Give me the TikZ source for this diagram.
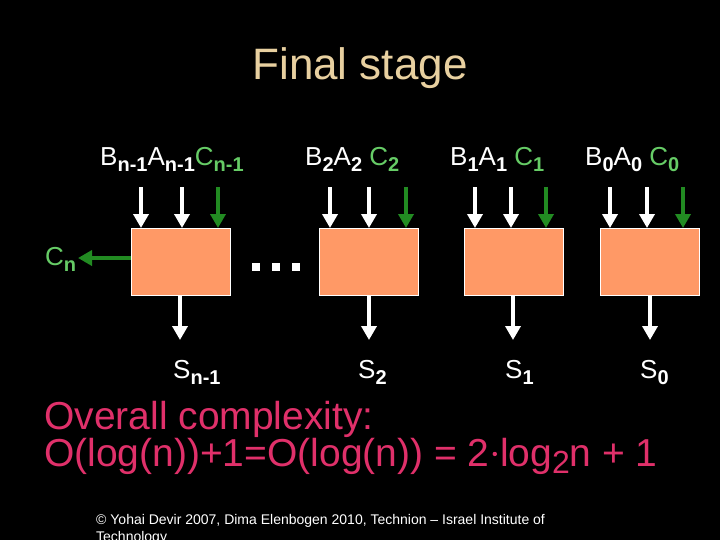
\documentclass[tikz,border=0pt]{standalone}
\usepackage{fontspec}
\setmainfont{Liberation Sans}
\usetikzlibrary{arrows.meta}
\definecolor{boxc}{HTML}{FF9966}
\definecolor{gr}{HTML}{228B22}
\definecolor{lgr}{HTML}{66CC66}
\definecolor{tan}{HTML}{E8D0A0}
\definecolor{pk}{HTML}{E0306A}
\newcommand{\sbs}[1]{\raisebox{-0.5ex}{\fontsize{20}{20}\selectfont\bfseries #1}}
\begin{document}
\begin{tikzpicture}[x=1pt,y=-1pt,
  blk/.style={draw=white,fill=boxc,minimum width=99pt,minimum height=67pt,inner sep=0pt,anchor=north west},
  warr/.style={white,line width=3.5pt,-{Triangle[width=15pt,length=14pt]}},
  garr/.style={gr,line width=3.5pt,-{Triangle[width=15pt,length=14pt]}},
  lab/.style={white,font=\fontsize{26}{28}\selectfont,inner sep=0pt},
  glab/.style={lgr,font=\fontsize{26}{28}\selectfont,inner sep=0pt}]
\fill[black] (0,0) rectangle (720,540);
\node[tan,font=\fontsize{44}{48}\selectfont] (title) at (360,68) {Final stage};
\foreach \i/\x in {1/131,2/319,3/464,4/600}{\node[blk] (b\i) at (\x,228) {};}
\node[lab,anchor=base west] (l1) at (100,165) {B\sbs{n-1}A\sbs{n-1}\textcolor{lgr}{C\sbs{n-1}}};
\node[lab,anchor=base west] (l2) at (305,165) {B\sbs{2}A\sbs{2} \textcolor{lgr}{C\sbs{2}}};
\node[lab,anchor=base west] (l3) at (450,165) {B\sbs{1}A\sbs{1} \textcolor{lgr}{C\sbs{1}}};
\node[lab,anchor=base west] (l4) at (585,165) {B\sbs{0}A\sbs{0} \textcolor{lgr}{C\sbs{0}}};
\foreach \i/\a/\b/\c in {1/141/182/218,2/330/369/406,3/475/511/546,4/610/647/683}{
  \coordinate (s\i a) at (\a,187); \coordinate (s\i b) at (\b,187); \coordinate (s\i c) at (\c,187);
  \draw[warr] (s\i a) -- (s\i a |- b\i.north);
  \draw[warr] (s\i b) -- (s\i b |- b\i.north);
  \draw[garr] (s\i c) -- (s\i c |- b\i.north);
}
\foreach \i/\x/\t/\lx in {1/180/n-1/173,2/369/2/358,3/513/1/505,4/650/0/640}{
  \coordinate (o\i) at (\x,340);
  \draw[warr] (\x,295) -- (o\i);
  \node[lab,anchor=base west] (sl\i) at (\lx,378) {S\sbs{\t}};
}
\coordinate (cn) at (78,258);
\draw[garr] (b1.west |- cn) -- (cn);
\node[glab,anchor=base west] (cnl) at (45,265) {C\sbs{n}};
\foreach \k/\x in {1/256,2/276,3/296}{\fill[white] (\x-4,263) rectangle (\x+4,271);}
\node[pk,font=\fontsize{39}{37}\selectfont,align=left,anchor=north west,inner sep=0pt] (oc) at (44,401) {Overall complexity:\\O(log(n))+1=O(log(n)) = 2\hspace{3pt}\raisebox{0.5ex}{\tikz\fill[pk] (0,0) circle (2.2pt);}\hspace{3pt}log\raisebox{-0.35ex}{\fontsize{32}{32}\selectfont 2}n + 1};
\node[white,font=\fontsize{14}{17}\selectfont,align=left,anchor=north west,inner sep=0pt] (ft) at (96,514) {© Yohai Devir 2007, Dima Elenbogen 2010, Technion – Israel Institute of\\Technology};
\useasboundingbox (0,0) rectangle (720,540);
\end{tikzpicture}
\end{document}
